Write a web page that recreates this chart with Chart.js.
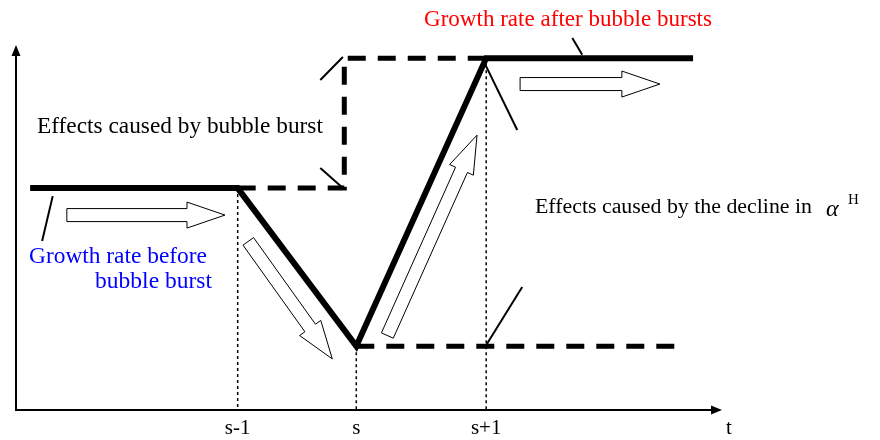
<!DOCTYPE html>
<html>
<head>
<meta charset="utf-8">
<script src="https://cdn.jsdelivr.net/npm/chart.js@4/dist/chart.umd.min.js"></script>
<style>
  body { margin: 0; background: #fff; }
  #wrap { width: 880px; height: 440px; position: relative; }
</style>
</head>
<body>
<div id="wrap"><canvas id="board"></canvas></div>
<script>
// time positions of s-1, s, s+1 and their labels
const tickX = [31.4, 48.2, 66.6];
const tickLabels = ['s-1', 's', 's+1'];

// growth rate path (thick solid line)
const mainX = [2, 31.4, 48.2, 66.6, 95.9];
const mainY = [60.8, 60.8, 17.5, 96.4, 96.4];

// effect of bubble burst (dashed step up)
const upperDashX = [31.4, 46.5, 46.5, 66.6];
const upperDashY = [60.8, 60.8, 96.4, 96.4];

// lower dashed level after the dip
const lowerDashX = [48.2, 93.8];
const lowerDashY = [17.5, 17.5];

// tops of the dotted guides at s-1, s, s+1
const guideTop = [60.8, 17.5, 96.4];

// thin leader lines [x0, y0, x1, y1]
const leaders = [
    [5.2, 58.6, 3.7, 46.3],
    [43.1, 90.4, 46.3, 96.7],
    [43.1, 66.3, 46.3, 60.8],
    [78.8, 101.9, 80.2, 97.3],
    [66.3, 95.3, 71.0, 76.7],
    [66.7, 18.1, 71.7, 33.7]
];

// hollow block arrows [tailX, tailY, tipX, tipY]
const blockArrows = [
    [7.2, 53.4, 29.6, 53.4],
    [32.9, 46.2, 44.8, 14.0],
    [52.6, 20.4, 65.3, 75.3],
    [71.4, 89.3, 91.2, 89.3]
];

function pts(xs, ys) {
    return xs.map((x, i) => ({ x: x, y: ys[i] }));
}

let datasets = [];
datasets.push({ data: pts(mainX, mainY), borderColor: '#000', borderWidth: 6, borderJoinStyle: 'miter', borderCapStyle: 'butt' });
datasets.push({ data: pts(upperDashX, upperDashY), borderColor: '#000', borderWidth: 5, borderDash: [18, 12], borderJoinStyle: 'miter' });
datasets.push({ data: pts(lowerDashX, lowerDashY), borderColor: '#000', borderWidth: 5, borderDash: [18, 12] });
for (let i = 0; i < tickX.length; ++i) {
    datasets.push({ data: [{ x: tickX[i], y: guideTop[i] }, { x: tickX[i], y: 0 }], borderColor: '#000', borderWidth: 1.5, borderDash: [3, 3] });
}
leaders.forEach((l) => {
    datasets.push({ data: [{ x: l[0], y: l[1] }, { x: l[2], y: l[3] }], borderColor: '#000', borderWidth: 2 });
});

function drawBlockArrow(ctx, x0, y0, x1, y1, bw, hw, hl) {
    const dx = x1 - x0, dy = y1 - y0;
    const len = Math.sqrt(dx * dx + dy * dy);
    const ux = dx / len, uy = dy / len;
    const nx = -uy, ny = ux;
    const bx = x1 - ux * hl, by = y1 - uy * hl;
    ctx.beginPath();
    ctx.moveTo(x0 + nx * bw, y0 + ny * bw);
    ctx.lineTo(bx + nx * bw, by + ny * bw);
    ctx.lineTo(bx + nx * hw, by + ny * hw);
    ctx.lineTo(x1, y1);
    ctx.lineTo(bx - nx * hw, by - ny * hw);
    ctx.lineTo(bx - nx * bw, by - ny * bw);
    ctx.lineTo(x0 - nx * bw, y0 - ny * bw);
    ctx.closePath();
    ctx.fillStyle = '#fff';
    ctx.fill();
    ctx.strokeStyle = '#000';
    ctx.lineWidth = 1;
    ctx.stroke();
}

const serif = '"Liberation Serif", "DejaVu Serif", serif';

// draw text so that it spans the given width
function fitText(ctx, text, x, y, width, align) {
    ctx.font = '20px ' + serif;
    const size = 20 * width / ctx.measureText(text).width;
    ctx.font = size.toFixed(2) + 'px ' + serif;
    ctx.textAlign = align;
    ctx.fillText(text, x, y);
}

const diagramPlugin = {
    id: 'diagram',
    afterDatasetsDraw(chart) {
        const ctx = chart.ctx;
        const sx = chart.scales.x, sy = chart.scales.y;
        const x0 = sx.getPixelForValue(0), y0 = sy.getPixelForValue(0);
        const xEnd = sx.getPixelForValue(100), yEnd = sy.getPixelForValue(100);
        ctx.save();
        // axes
        ctx.strokeStyle = '#000';
        ctx.fillStyle = '#000';
        ctx.lineWidth = 2;
        ctx.beginPath();
        ctx.moveTo(x0, y0 + 1);
        ctx.lineTo(x0, yEnd + 8);
        ctx.moveTo(x0 - 1, y0);
        ctx.lineTo(xEnd - 8, y0);
        ctx.stroke();
        ctx.beginPath();
        ctx.moveTo(x0, yEnd);
        ctx.lineTo(x0 - 4.5, yEnd + 11);
        ctx.lineTo(x0 + 4.5, yEnd + 11);
        ctx.closePath();
        ctx.fill();
        ctx.beginPath();
        ctx.moveTo(xEnd, y0);
        ctx.lineTo(xEnd - 11, y0 - 4.5);
        ctx.lineTo(xEnd - 11, y0 + 4.5);
        ctx.closePath();
        ctx.fill();

        // hollow arrows
        blockArrows.forEach((a) => {
            drawBlockArrow(ctx, sx.getPixelForValue(a[0]), sy.getPixelForValue(a[1]),
                sx.getPixelForValue(a[2]), sy.getPixelForValue(a[3]), 6.5, 13, 38);
        });

        // tick labels
        ctx.font = '21px ' + serif;
        ctx.textAlign = 'center';
        ctx.textBaseline = 'middle';
        ctx.fillStyle = '#000';
        tickX.forEach((v, i) => {
            ctx.fillText(tickLabels[i], sx.getPixelForValue(v), y0 + 18);
        });
        ctx.fillText('t', xEnd + 7, y0 + 18);

        // annotations
        fitText(ctx, 'Effects caused by bubble burst', 37, 127, 286, 'left');
        fitText(ctx, 'Effects caused by the decline in', 535, 207, 277, 'left');
        ctx.textAlign = 'left';
        ctx.font = 'italic 24px ' + serif;
        ctx.fillText('\u03b1', 826, 210);
        ctx.font = '15px ' + serif;
        ctx.fillText('H', 848, 200);

        ctx.fillStyle = '#ff0000';
        fitText(ctx, 'Growth rate after bubble bursts', 424, 20, 288, 'left');
        ctx.fillStyle = '#0000ff';
        fitText(ctx, 'Growth rate before', 29, 257, 178, 'left');
        fitText(ctx, 'bubble burst', 212, 282, 117, 'right');
        ctx.restore();
    }
};

new Chart(document.getElementById('board'), {
    type: 'line',
    data: { datasets: datasets },
    options: {
        responsive: true,
        maintainAspectRatio: false,
        animation: false,
        clip: false,
        layout: { padding: { left: 16, top: 45, right: 158, bottom: 30 } },
        elements: { point: { radius: 0, hoverRadius: 0 }, line: { tension: 0, fill: false } },
        scales: {
            x: { type: 'linear', display: false, min: 0, max: 100 },
            y: { type: 'linear', display: false, min: 0, max: 100 }
        },
        plugins: { legend: { display: false }, tooltip: { enabled: false } },
        events: []
    },
    plugins: [diagramPlugin]
});
</script>
</body>
</html>
